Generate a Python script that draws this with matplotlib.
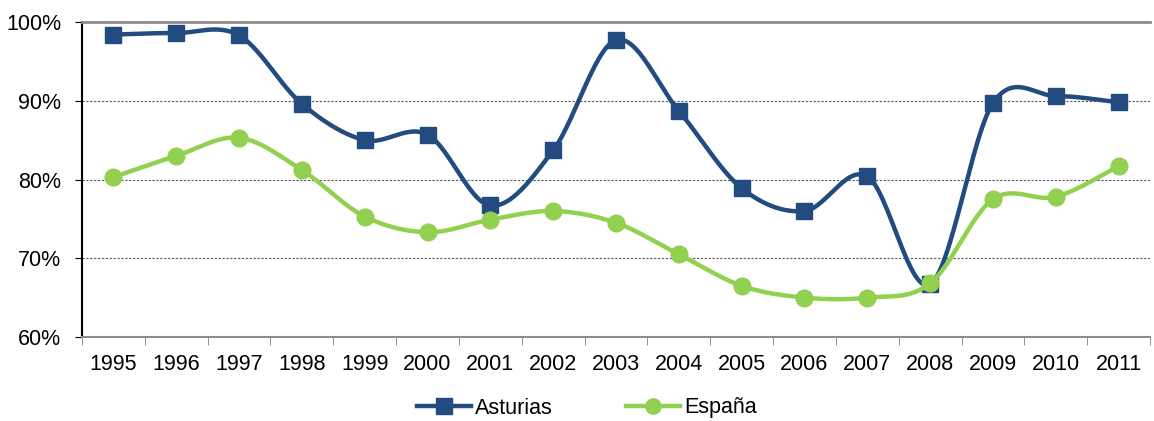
import matplotlib.pyplot as plt
import numpy as np

plt.rcParams['font.family'] = ['Liberation Sans', 'DejaVu Sans']

years = ["1995", "1996", "1997", "1998", "1999", "2000", "2001", "2002", "2003",
         "2004", "2005", "2006", "2007", "2008", "2009", "2010", "2011"]
asturias = [98.4, 98.6, 98.3, 89.6, 85.0, 85.7, 76.7, 83.7, 97.7,
            88.7, 78.9, 76.0, 80.4, 66.7, 89.7, 90.6, 89.8]
espana = [80.3, 83.0, 85.3, 81.2, 75.3, 73.3, 74.9, 76.0, 74.5,
          70.5, 66.5, 65.0, 65.0, 66.8, 77.5, 77.8, 81.7]


def suave(x, y, n=30):
    # curva tipo Excel (catmull-rom) entre los puntos
    x = np.asarray(x, float)
    y = np.asarray(y, float)
    px = np.concatenate([[x[0]], x, [x[-1]]])
    py = np.concatenate([[y[0]], y, [y[-1]]])
    xs, ys = [], []
    t = np.linspace(0, 1, n)
    for i in range(1, len(px) - 2):
        for p, out in ((px, xs), (py, ys)):
            p0, p1, p2, p3 = p[i - 1], p[i], p[i + 1], p[i + 2]
            c1 = p1 + (p2 - p0) / 6
            c2 = p2 - (p3 - p1) / 6
            out.extend((1 - t) ** 3 * p1 + 3 * (1 - t) ** 2 * t * c1
                       + 3 * (1 - t) * t ** 2 * c2 + t ** 3 * p2)
    return np.array(xs), np.array(ys)


azul = "#224B80"
verde = "#92D050"

fig = plt.figure(figsize=(11.54, 4.21), dpi=100)
ax = fig.add_axes([82 / 1154, 1 - 337 / 421, (1150 - 82) / 1154, (337 - 22) / 421])

x = np.arange(len(years))
for datos, col, mk, ms, z in ((asturias, azul, "s", 12, 3),
                              (espana, verde, "o", 12, 5)):
    sx, sy = suave(x, datos)
    ax.plot(sx, sy, color=col, lw=3.2, zorder=z)
    ax.plot(x, datos, ls="none", marker=mk, ms=ms, color=col, zorder=z + 1)

ax.set_xlim(-0.5, len(years) - 0.5)
ax.set_ylim(60, 100)
ax.set_yticks([60, 70, 80, 90, 100])
ax.set_yticklabels([f"{v}%" for v in [60, 70, 80, 90, 100]], fontsize=15.5)
ax.set_xticks(x)
ax.set_xticklabels(years, fontsize=15.5)
ax.set_xticks(np.arange(-0.5, len(years)), minor=True)
ax.tick_params(axis="x", which="major", length=0, pad=12)
ax.tick_params(axis="x", which="minor", length=6, color="#808080")
ax.tick_params(axis="y", length=5, pad=10)

for v in [70, 80, 90]:
    ax.axhline(v, color="#555555", lw=0.8, ls=(0, (2, 1.5)), zorder=1)

ax.spines["right"].set_visible(False)
ax.spines["top"].set_color("#8C8C8C")
ax.spines["top"].set_linewidth(2)
ax.spines["bottom"].set_color("#8C8C8C")
ax.spines["bottom"].set_linewidth(1.5)
ax.spines["left"].set_linewidth(1.5)

h1, = ax.plot([], [], color=azul, lw=3.2, marker="s", ms=11)
h2, = ax.plot([], [], color=verde, lw=3.2, marker="o", ms=11)
fig.legend([h1, h2], ["Asturias", "España"], loc="center", ncol=2,
           bbox_to_anchor=(587 / 1154, 1 - 408 / 421), frameon=False,
           fontsize=15.5, handlelength=2.5, columnspacing=3.4, handletextpad=0.2,
           borderpad=0.1)

fig.savefig("out.png", dpi=100)
